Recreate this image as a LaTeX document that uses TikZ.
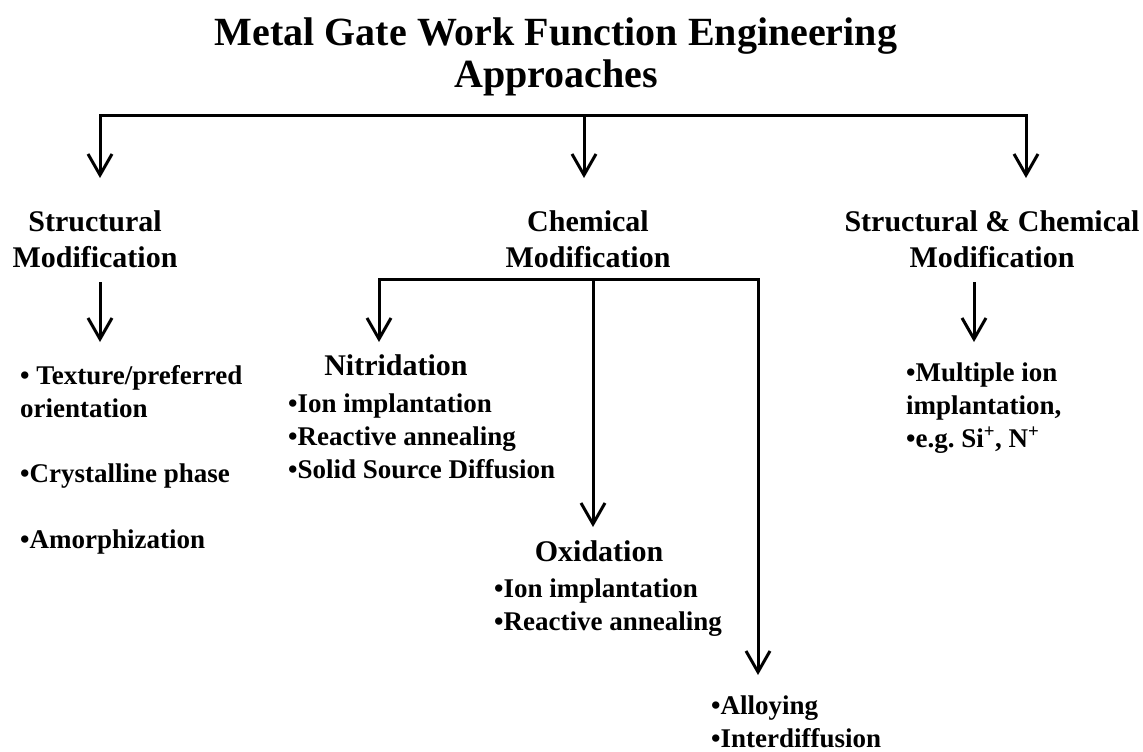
\documentclass[tikz,border=0pt]{standalone}
\usepackage{fontspec}
\setmainfont{Liberation Serif}
\usetikzlibrary{arrows.meta}
\tikzstyle{ttl}=[font=\fontsize{40}{43}\selectfont\bfseries, align=center, anchor=base, inner sep=0pt]
\tikzstyle{head}=[font=\fontsize{30}{36}\selectfont\bfseries, align=center, anchor=base, inner sep=0pt]
\tikzstyle{lst}=[font=\fontsize{27}{32.7}\selectfont\bfseries, align=left, anchor=base west, inner sep=0pt]
\tikzstyle{ln}=[line width=3pt]

\begin{document}
\begin{tikzpicture}[x=1pt,y=-1pt,>={Straight Barb[length=21pt,width=24pt]}]
      \useasboundingbox (0,0) rectangle (1143,752);
      % multi-line nodes sit on the baseline of their last line
      \node [ttl] (t) at (556,88) {Metal Gate Work Function Engineering\\Approaches};

      % top branch
      \coordinate (b1) at (100,115);
      \coordinate (b2) at (584,115);
      \coordinate (b3) at (1026,115);
      \coordinate (e1) at (100,178);
      \coordinate (e2) at (584,178);
      \coordinate (e3) at (1026,178);
      \draw[ln,<->] (e1) -- (b1) -- (b3) -- (e3);
      \draw[ln,->] (b2) -- (e2);

      \node [head] (s) at (95,267) {Structural\\Modification};
      \node [head] (c) at (588,267) {Chemical\\Modification};
      \node [head] (sc) at (992,267) {Structural \& Chemical\\Modification};

      % structural
      \coordinate (s1) at (100,282);
      \coordinate (s2) at (100,342);
      \draw[ln,->] (s1) -- (s2);
      \node [lst] (sl) at (20,548) {\textbullet\ Texture/preferred\\orientation\\[32.7pt]\textbullet Crystalline phase\\[32.7pt]\textbullet Amorphization};

      % chemical
      \coordinate (c1) at (379,279);
      \coordinate (c2) at (593,279);
      \coordinate (c3) at (758,279);
      \coordinate (n) at (379,342);
      \coordinate (o) at (593,527);
      \coordinate (a) at (758,675);
      \draw[ln,<->] (n) -- (c1) -- (c3) -- (a);
      \draw[ln,->] (c2) -- (o);

      \node [head] (ni) at (396,375) {Nitridation};
      \node [lst] (nl) at (288,478) {\textbullet Ion implantation\\\textbullet Reactive annealing\\\textbullet Solid Source Diffusion};
      \node [head] (ox) at (599,561) {Oxidation};
      \node [lst] (ol) at (494,630) {\textbullet Ion implantation\\\textbullet Reactive annealing};
      \node [lst] (al) at (711,747) {\textbullet Alloying\\\textbullet Interdiffusion};

      % structural & chemical
      \coordinate (m1) at (974,282);
      \coordinate (m2) at (974,342);
      \draw[ln,->] (m1) -- (m2);
      \node [lst] (ml) at (906,447) {\textbullet Multiple ion\\implantation,\\\textbullet e.g.\ Si\textsuperscript{+}, N\textsuperscript{+}};
\end{tikzpicture}
\end{document}
